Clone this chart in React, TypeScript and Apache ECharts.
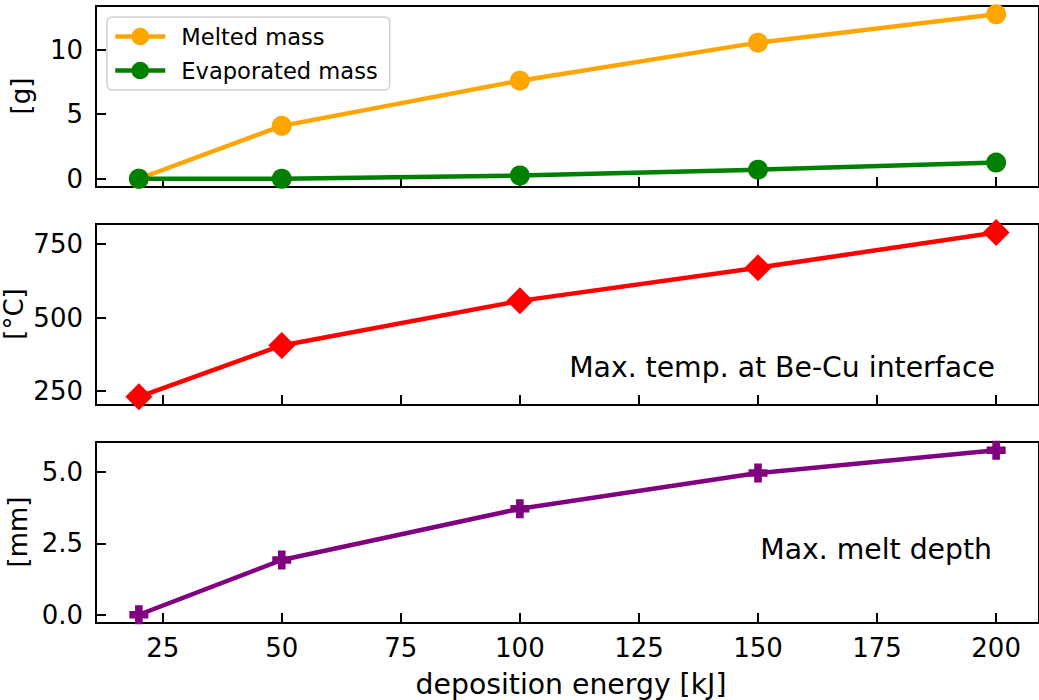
import React, { useEffect, useRef } from "react";
import * as echarts from "echarts";

const energies = [20, 50, 100, 150, 200];
const meltedMass = [0, 4.1, 7.6, 10.55, 12.75];
const evaporatedMass = [0, 0, 0.25, 0.7, 1.25];
const maxTemp = [230, 405, 557, 670, 790];
const meltDepth = [0, 1.92, 3.72, 4.97, 5.77];

const xTicks = [25, 50, 75, 100, 125, 150, 175, 200];
const massTicks = [0, 5, 10];
const tempTicks = [250, 500, 750];
const depthTicks = [0, 2.5, 5.0];

const FONT = "DejaVu Sans";
const PLUS = "path://M3,0H7V3H10V7H7V10H3V7H0V3H3Z";

export default function App() {
  const ref = useRef<HTMLDivElement>(null);
  useEffect(() => {
    const chart = echarts.init(ref.current!, null, { renderer: "svg" });
    const grids = [
      { left: 96, top: 6, width: 950, height: 181 },
      { left: 96, top: 224, width: 950, height: 181 },
      { left: 96, top: 442, width: 950, height: 181 },
    ].map((g) => ({ ...g, show: true, borderColor: "#000", borderWidth: 2, backgroundColor: "transparent" }));

    const xAxis = [0, 1, 2].map((i) => ({
      type: "value",
      gridIndex: i,
      min: 11,
      max: 209,
      axisLine: { show: true, onZero: false, lineStyle: { color: "#000", width: 2 } },
      axisTick: { show: true, inside: true, length: 10, customValues: xTicks, lineStyle: { color: "#000", width: 2 } },
      axisLabel: {
        show: i === 2,
        customValues: xTicks,
        margin: 12,
        fontSize: 26,
        fontFamily: FONT,
        color: "#000",
      },
      splitLine: { show: false },
    }));

    const yCommon = (i: number, min: number, max: number, ticks: number[], fmt: (v: number) => string) => ({
      type: "value",
      gridIndex: i,
      min,
      max,
      axisLine: { show: true, onZero: false, lineStyle: { color: "#000", width: 2 } },
      axisTick: { show: true, inside: true, length: 10, customValues: ticks, lineStyle: { color: "#000", width: 2 } },
      axisLabel: {
        customValues: ticks,
        formatter: fmt,
        margin: 13,
        fontSize: 26,
        fontFamily: FONT,
        color: "#000",
      },
      splitLine: { show: false },
    });

    const yAxis = [
      yCommon(0, -0.64, 13.39, massTicks, (v) => String(Math.round(v))),
      yCommon(1, 202, 819, tempTicks, (v) => String(Math.round(v))),
      yCommon(2, -0.29, 6.06, depthTicks, (v) => v.toFixed(1)),
    ];

    const mk = (name: string, data: number[], color: string, xi: number, symbol: string, size: number) => ({
      name,
      type: "line",
      xAxisIndex: xi,
      yAxisIndex: xi,
      data: energies.map((e, k) => [e, data[k]]),
      symbol,
      symbolSize: size,
      showSymbol: true,
      clip: false,
      lineStyle: { color, width: 4.5 },
      itemStyle: { color, borderWidth: 0 },
      emphasis: { disabled: true },
    });

    chart.setOption({
      animation: false,
      backgroundColor: "#fff",
      grid: grids,
      xAxis,
      yAxis,
      legend: {
        data: ["Melted mass", "Evaporated mass"],
        orient: "vertical",
        left: 107,
        top: 17,
        itemWidth: 50,
        itemHeight: 22,
        itemGap: 11,
        padding: [8, 12, 8, 6],
        borderColor: "#d0d0d0",
        borderWidth: 1.5,
        borderRadius: 5,
        backgroundColor: "#fff",
        lineStyle: { width: 4.5 },
        textStyle: { fontSize: 22.6, fontFamily: FONT, color: "#000", padding: [0, 0, 0, 11] },
      },
      series: [
        mk("Melted mass", meltedMass, "#FFA500", 0, "circle", 20),
        mk("Evaporated mass", evaporatedMass, "#008000", 0, "circle", 20),
        mk("Max. temp", maxTemp, "#FF0000", 1, "diamond", 27),
        mk("Max. melt depth", meltDepth, "#800080", 2, PLUS, 19),
      ],
      graphic: [
        { type: "text", x: 21, y: 96, rotation: Math.PI / 2, style: { text: "[g]", font: `26px '${FONT}'`, fill: "#000", align: "center", verticalAlign: "middle" } },
        { type: "text", x: 14, y: 314, rotation: Math.PI / 2, style: { text: "[°C]", font: `26px '${FONT}'`, fill: "#000", align: "center", verticalAlign: "middle" } },
        { type: "text", x: 18, y: 532, rotation: Math.PI / 2, style: { text: "[mm]", font: `26px '${FONT}'`, fill: "#000", align: "center", verticalAlign: "middle" } },
        { type: "text", x: 571, y: 684, style: { text: "deposition energy [kJ]", font: `28.3px '${FONT}'`, fill: "#000", align: "center", verticalAlign: "middle" } },
        { type: "text", x: 995, y: 367, style: { text: "Max. temp. at Be-Cu interface", font: `28.3px '${FONT}'`, fill: "#000", align: "right", verticalAlign: "middle" } },
        { type: "text", x: 992, y: 549, style: { text: "Max. melt depth", font: `28.3px '${FONT}'`, fill: "#000", align: "right", verticalAlign: "middle" } },
      ],
    });
    return () => chart.dispose();
  }, []);
  return <div ref={ref} style={{ position: "absolute", left: 0, top: 0, width: 1039, height: 700, background: "#fff" }} />;
}
